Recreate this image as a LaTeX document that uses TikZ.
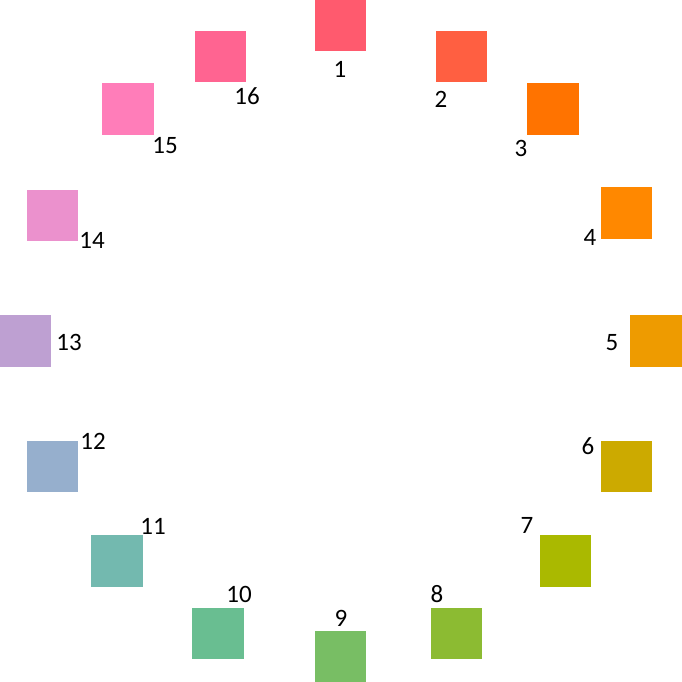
\documentclass[tikz,border=0pt]{standalone}
\usepackage{fontspec}
\setmainfont{Carlito}
\definecolor{c1}{RGB}{255,90,110}
\definecolor{c2}{RGB}{255,95,65}
\definecolor{c3}{RGB}{255,115,0}
\definecolor{c4}{RGB}{255,136,0}
\definecolor{c5}{RGB}{238,155,0}
\definecolor{c6}{RGB}{204,170,0}
\definecolor{c7}{RGB}{170,185,0}
\definecolor{c8}{RGB}{140,187,50}
\definecolor{c9}{RGB}{120,190,100}
\definecolor{c10}{RGB}{105,190,145}
\definecolor{c11}{RGB}{115,185,175}
\definecolor{c12}{RGB}{150,175,205}
\definecolor{c13}{RGB}{190,160,210}
\definecolor{c14}{RGB}{235,145,205}
\definecolor{c15}{RGB}{255,125,185}
\definecolor{c16}{RGB}{255,100,145}
\begin{document}
\begin{tikzpicture}[x=1pt,y=-1pt,
  sq/.style={draw=none,inner sep=0pt,minimum size=51.5pt},
  lab/.style={inner sep=0pt,font=\fontsize{25}{25}\selectfont,text height=16pt,text depth=0pt}]
\useasboundingbox (0,0) rectangle (682,682);
\node[sq,fill=c1]  (sq1)  at (340.5,25.7) {};
\node[sq,fill=c2]  (sq2)  at (461.5,56.5) {};
\node[sq,fill=c3]  (sq3)  at (553,109) {};
\node[sq,fill=c4]  (sq4)  at (626.5,213) {};
\node[sq,fill=c5]  (sq5)  at (656,341) {};
\node[sq,fill=c6]  (sq6)  at (626.5,466.5) {};
\node[sq,fill=c7]  (sq7)  at (565.5,561) {};
\node[sq,fill=c8]  (sq8)  at (456.5,633.5) {};
\node[sq,fill=c9]  (sq9)  at (340.5,656.5) {};
\node[sq,fill=c10] (sq10) at (218,633.5) {};
\node[sq,fill=c11] (sq11) at (117,561) {};
\node[sq,fill=c12] (sq12) at (52.5,466.5) {};
\node[sq,fill=c13] (sq13) at (25.5,341) {};
\node[sq,fill=c14] (sq14) at (52.5,215.5) {};
\node[sq,fill=c15] (sq15) at (128,109) {};
\node[sq,fill=c16] (sq16) at (220.5,56.5) {};
\node[lab] (l1)  at (340,69.5) {1};
\node[lab] (l2)  at (441,100) {2};
\node[lab] (l3)  at (521,148) {3};
\node[lab] (l4)  at (590,237) {4};
\node[lab] (l5)  at (612,342) {5};
\node[lab] (l6)  at (588,446) {6};
\node[lab] (l7)  at (527,525) {7};
\node[lab] (l8)  at (437,594) {8};
\node[lab] (l9)  at (341,618) {9};
\node[lab] (l10) at (239,594) {10};
\node[lab] (l11) at (153,526) {11};
\node[lab] (l12) at (93,441) {12};
\node[lab] (l13) at (69,342) {13};
\node[lab] (l14) at (92,240) {14};
\node[lab] (l15) at (165,145) {15};
\node[lab] (l16) at (247,97) {16};
\end{tikzpicture}
\end{document}
